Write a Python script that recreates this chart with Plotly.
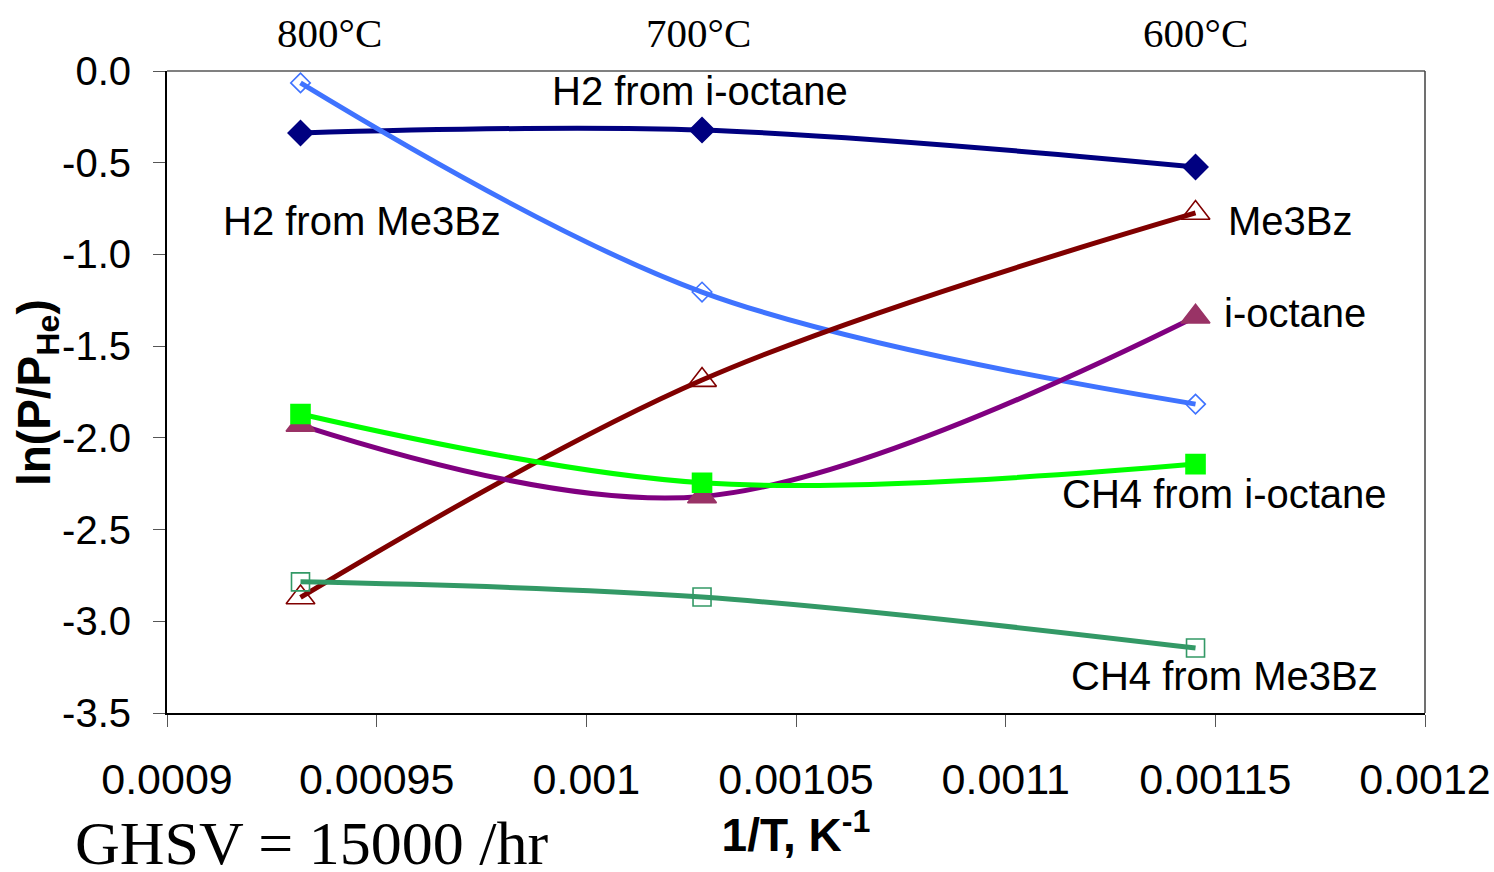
import plotly.graph_objects as go

# Data: x = 1/T (K^-1) at 800, 700, 600 °C
inv_T = [1/1073.15, 1/973.15, 1/873.15]
h2_ioctane = [-0.338, -0.322, -0.523]
h2_me3bz = [-0.065, -1.205, -1.816]
me3bz = [-2.87, -1.685, -0.774]
ioctane = [-1.93, -2.32, -1.34]
ch4_ioctane = [-1.87, -2.245, -2.143]
ch4_me3bz = [-2.785, -2.868, -3.146]

x_tickvals = [0.0009, 0.00095, 0.001, 0.00105, 0.0011, 0.00115, 0.0012]
x_ticktext = ["0.0009", "0.00095", "0.001", "0.00105", "0.0011", "0.00115", "0.0012"]
y_tickvals = [0.0, -0.5, -1.0, -1.5, -2.0, -2.5, -3.0, -3.5]
y_ticktext = ["0.0", "-0.5", "-1.0", "-1.5", "-2.0", "-2.5", "-3.0", "-3.5"]

temp_labels = ["800°C", "700°C", "600°C"]

SANS = "Liberation Sans, Arial, sans-serif"
SERIF = "Liberation Serif, Times New Roman, serif"

series = [
    ("H2 from i-octane", h2_ioctane, "#000080", "diamond", "#000080", 19),
    ("H2 from Me3Bz", h2_me3bz, "#3F73FF", "diamond-open", "#3F73FF", 15),
    ("Me3Bz", me3bz, "#800000", "triangle-up-open", "#800000", 25),
    ("i-octane", ioctane, "#800080", "triangle-up", "#993366", 25),
    ("CH4 from i-octane", ch4_ioctane, "#00FF00", "square", "#00FF00", 19),
    ("CH4 from Me3Bz", ch4_me3bz, "#339966", "square-open", "#339966", 18),
]

fig = go.Figure()
for name, ys, lc, sym, mc, ms in series:
    fig.add_trace(go.Scatter(
        x=inv_T, y=ys, name=name, mode="lines+markers",
        line=dict(color=lc, width=5, shape="spline", smoothing=1.0),
        marker=dict(symbol=sym, color=mc, size=ms,
                    line=dict(color=mc, width=1.6)),
        showlegend=False,
    ))

annos = [
    ("H2 from i-octane", 0.0010271, -0.109),
    ("H2 from Me3Bz", 0.0009465, -0.818),
    ("Me3Bz", 0.0011680, -0.818),
    ("i-octane", 0.0011690, -1.319),
    ("CH4 from i-octane", 0.0011523, -2.306),
    ("CH4 from Me3Bz", 0.0011523, -3.298),
]
for txt, ax, ay in annos:
    fig.add_annotation(x=ax, y=ay, xref="x", yref="y", text=txt, showarrow=False,
                       xanchor="center", yanchor="middle",
                       font=dict(family=SANS, size=40, color="black"))

temp_label_x = [0.1288, 0.4221, 0.8172]
for lbl, tx in zip(temp_labels, temp_label_x):
    fig.add_annotation(x=tx, y=1.059, xref="paper", yref="paper", text=lbl, showarrow=False,
                       xanchor="center", yanchor="middle",
                       font=dict(family=SERIF, size=41, color="black"))

fig.add_annotation(x=0.115, y=-0.203, xref="paper", yref="paper", text="GHSV = 15000 /hr",
                   showarrow=False, xanchor="center", yanchor="middle",
                   font=dict(family=SERIF, size=62, color="black"))

# y-axis title (overlaps tick labels slightly as in reference)
fig.add_annotation(x=-0.103, y=0.499, xref="paper", yref="paper",
                   text="<b>ln(P/P<sub>He</sub>)</b>", textangle=-90, showarrow=False,
                   xanchor="center", yanchor="middle",
                   font=dict(family=SANS, size=46, color="black"))

# top and right frame lines in grey
fig.add_shape(type="line", xref="paper", yref="paper", x0=0, x1=1, y0=1, y1=1,
              line=dict(color="#808080", width=2))
fig.add_shape(type="line", xref="paper", yref="paper", x0=1, x1=1, y0=0, y1=1,
              line=dict(color="#404040", width=1.5))

fig.update_layout(
    width=1494, height=872,
    margin=dict(l=167, r=69, t=71, b=159),
    paper_bgcolor="white", plot_bgcolor="white",
    xaxis=dict(
        range=[0.0009, 0.0012], tickvals=x_tickvals, ticktext=x_ticktext,
        automargin=False,
        showgrid=False, zeroline=False, showline=True, linecolor="black", linewidth=2,
        ticks="outside", ticklen=12, tickwidth=1, tickcolor="#555555",
        ticklabelstandoff=15,
        tickfont=dict(family=SANS, size=43, color="black"),
        title=dict(text="<b>1/T, K<sup>-1</sup></b>", standoff=4,
                   font=dict(family=SANS, size=46, color="black")),
    ),
    yaxis=dict(
        range=[-3.5, 0.0], tickvals=y_tickvals, ticktext=y_ticktext,
        automargin=False,
        showgrid=False, zeroline=False, showline=True, linecolor="black", linewidth=2,
        ticks="outside", ticklen=12, tickwidth=1, tickcolor="#555555",
        ticklabelstandoff=14,
        tickfont=dict(family=SANS, size=40, color="black"),
    ),
)

fig.write_html("out.html")
